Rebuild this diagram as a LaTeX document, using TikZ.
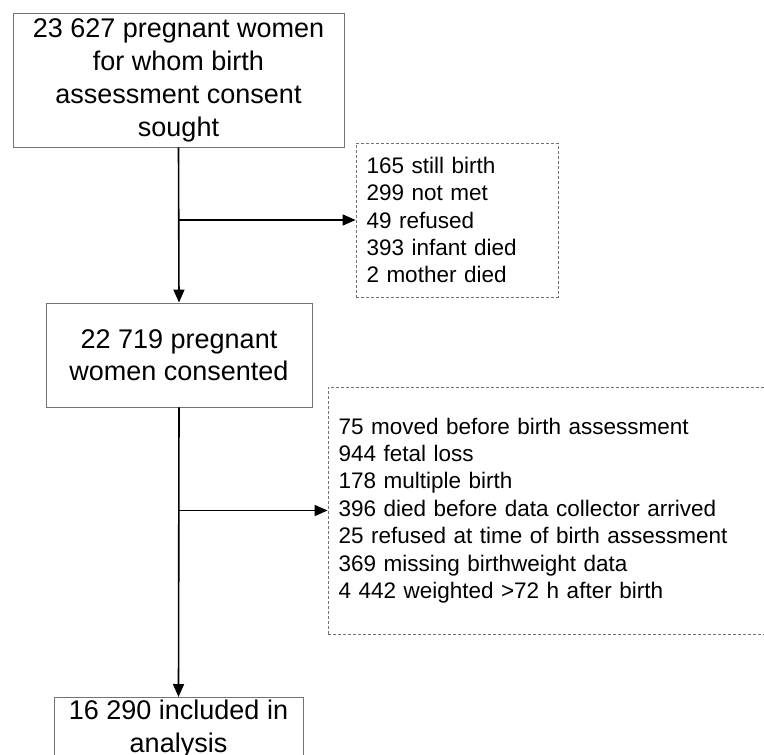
\documentclass[tikz,border=0pt]{standalone}
\usepackage{fontspec}
\setmainfont{Liberation Sans}
\usetikzlibrary{arrows.meta}
\begin{document}
\begin{tikzpicture}[x=1pt,y=-1pt,
  mainbox/.style={draw=gray!90!black, line width=0.9pt, rectangle, inner sep=0pt, align=center,
    font=\fontsize{27}{33}\selectfont},
  exclbox/.style={draw=gray!90!black, line width=0.8pt, dash pattern=on 3pt off 2pt, rectangle,
    inner ysep=0pt, inner xsep=10.5pt, align=left, font=\fontsize{22.5}{27.4}\selectfont},
  arr/.style={line width=1.6pt, -{Triangle[width=11pt,length=13pt]}}]
\useasboundingbox (0,0) rectangle (764,755);
\clip (0,0) rectangle (764,755);
\node[mainbox, minimum width=331pt, minimum height=134pt] (a) at (178.5,80)
  {23 627 pregnant women\\for whom birth\\assessment consent\\sought};
\node[mainbox, minimum width=266pt, minimum height=104pt, font=\fontsize{27}{32}\selectfont] (b) at (179,355)
  {22 719 pregnant\\women consented};
\node[mainbox, minimum width=249pt, anchor=north, inner ysep=2.5pt] (c) at (178.5,697)
  {16 290 included in\\analysis};
\node[exclbox, text width=181pt, minimum height=154pt] (d1) at (457,220)
  {165 still birth\\299 not met\\49 refused\\393 infant died\\2 mother died};
\node[exclbox, text width=441pt, minimum height=247pt] (d2) at (559,510.5)
  {75 moved before birth assessment\\944 fetal loss\\178 multiple birth\\396 died before data collector arrived\\25 refused at time of birth assessment\\369 missing birthweight data\\4 442 weighted >72 h after birth};
\coordinate (j1) at (a.south |- d1.west);
\coordinate (j2) at (b.south |- d2.west);
\draw[arr] (a.south) -- (b.north);
\draw[arr] (j1) -- (d1.west);
\draw[arr] (b.south) -- (c.north);
\draw[arr] (j2) -- (d2.west);
\end{tikzpicture}
\end{document}
